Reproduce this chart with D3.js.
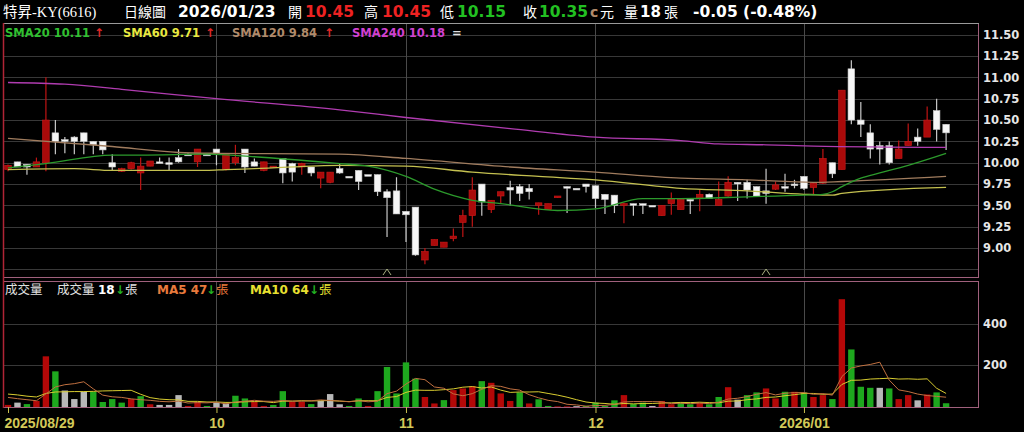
<!DOCTYPE html>
<html><head><meta charset="utf-8">
<script src="https://cdn.jsdelivr.net/npm/d3@7"></script>
<style>
html,body{margin:0;padding:0;background:#000;overflow:hidden}
svg{display:block}
</style></head><body>
<svg id="c" width="1024" height="432"></svg>
<script>
// ---------------- data ----------------
const opens  = [9.92,10.01,9.98,9.95,10.00,10.35,10.27,10.30,10.35,10.25,10.25,10.00,9.90,9.93,9.88,9.96,10.01,10.00,10.06,10.10,
10.01,10.10,10.16,9.92,10.00,10.16,10.01,9.91,9.95,10.05,9.99,9.95,9.95,9.82,9.77,9.93,9.84,9.91,9.86,9.86,
9.66,9.67,9.43,9.48,8.86,9.03,9.01,9.11,9.30,9.38,9.75,9.45,9.61,9.71,9.72,9.70,9.50,9.45,9.59,9.72,
9.70,9.75,9.73,9.63,9.62,9.51,9.52,9.52,9.50,9.38,9.52,9.45,9.57,9.58,9.63,9.50,9.61,9.77,9.77,9.72,
9.67,9.69,9.72,9.75,9.84,9.71,9.76,10.00,9.92,11.10,10.50,10.35,10.20,10.20,10.05,10.20,10.30,10.30,10.61,10.45];
const highs  = [9.98,10.01,9.98,10.06,11.00,10.50,10.30,10.31,10.35,10.25,10.25,10.10,9.94,10.01,10.06,10.02,10.06,10.06,10.16,10.11,
10.16,10.11,10.16,10.11,10.21,10.16,10.05,10.01,9.96,10.05,10.00,10.00,9.95,9.89,9.89,9.99,9.84,9.91,9.86,9.86,
9.69,9.83,9.43,9.48,9.00,9.10,9.07,9.23,9.45,9.83,9.75,9.56,9.66,9.79,9.75,9.75,9.53,9.52,9.61,9.72,
9.70,9.75,9.73,9.63,9.62,9.53,9.52,9.52,9.50,9.50,9.65,9.57,9.57,9.68,9.64,9.78,9.84,9.77,9.80,9.72,
9.93,9.78,9.87,9.80,9.84,9.76,10.16,10.00,10.85,11.20,10.71,10.45,10.25,10.25,10.26,10.46,10.40,10.66,10.75,10.45];
const lows   = [9.90,9.95,9.86,9.95,9.90,10.10,10.11,10.10,10.10,10.10,10.10,9.91,9.89,9.92,9.68,9.96,10.00,9.91,10.00,10.10,
9.95,10.09,9.97,9.91,9.97,9.88,9.96,9.90,9.94,9.76,9.78,9.86,9.84,9.70,9.76,9.87,9.84,9.68,9.86,9.61,
9.13,9.40,9.07,8.91,8.81,9.03,9.01,9.08,9.13,9.25,9.38,9.41,9.52,9.50,9.55,9.57,9.39,9.45,9.59,9.41,
9.70,9.65,9.47,9.40,9.41,9.29,9.38,9.40,9.50,9.38,9.39,9.45,9.40,9.43,9.58,9.50,9.60,9.55,9.58,9.61,
9.52,9.68,9.66,9.70,9.68,9.63,9.75,9.82,9.92,10.45,10.30,10.05,9.98,9.98,10.05,10.20,10.20,10.30,10.25,10.15];
const closes = [9.97,9.95,9.95,10.01,10.50,10.25,10.25,10.25,10.25,10.21,10.15,9.95,9.93,10.00,9.96,10.02,10.00,10.00,10.01,10.10,
10.16,10.10,10.10,10.10,10.06,9.95,9.96,10.01,9.96,9.88,9.89,9.99,9.88,9.89,9.89,9.88,9.84,9.78,9.86,9.66,
9.59,9.40,9.39,8.92,8.96,9.10,9.07,9.14,9.38,9.68,9.54,9.56,9.66,9.68,9.64,9.66,9.53,9.52,9.61,9.72,
9.70,9.72,9.58,9.57,9.50,9.52,9.51,9.52,9.50,9.50,9.58,9.57,9.57,9.63,9.58,9.57,9.77,9.76,9.68,9.61,
9.64,9.74,9.72,9.75,9.70,9.76,10.05,9.87,10.85,10.50,10.45,10.16,10.16,10.00,10.16,10.25,10.25,10.50,10.39,10.35];
const volumes = [10,21,14,29,243,171,79,38,73,73,24,38,21,38,52,13,10,10,57,5,
25,5,21,17,54,41,25,5,10,76,25,25,14,29,62,13,5,41,5,76,
192,65,214,136,48,17,33,81,89,100,124,116,65,29,70,17,37,5,3,3,
4,5,21,5,32,57,14,21,5,29,13,21,13,21,13,48,95,35,57,70,
89,41,73,73,70,48,57,38,517,276,97,92,92,89,38,57,32,60,70,18];
// volume bar colour: r = up, g = down, w = unchanged
const volColors = "rwgrrgwwwggggrgrwwwrrgwwggrrggrrgwwwggrgggggrrgrrrgrrrgrggrrwggggrggwrrggrggrwggrrgrgrrgrgggwgrrwrgg";
const volMA5 = [46,40,35,30,63,96,107,112,121,87,57,49,46,39,35,32,27,25,28,19,
21,20,23,15,24,28,32,28,27,31,28,28,30,34,31,29,25,30,25,28,
64,76,110,137,131,96,90,63,54,64,85,102,99,87,81,59,44,32,26,13,
10,4,7,8,13,24,26,26,26,25,16,18,16,19,16,23,38,42,50,61,
69,58,66,69,69,61,64,57,146,187,197,204,215,129,82,74,62,55,51,47];
const volMA10 = [62,58,52,48,65,72,73,74,74,75,77,78,79,80,61,45,38,35,34,27,
27,24,24,22,22,25,26,26,21,28,28,30,29,30,31,28,26,30,30,30,
46,50,70,81,80,80,83,87,95,98,91,96,81,70,72,72,73,65,57,47,
35,24,19,17,13,17,15,17,17,19,20,22,21,23,21,20,28,29,35,39,
46,48,54,59,65,65,61,62,108,128,129,134,136,138,134,135,133,135,90,65];

// moving averages on price, read at sample points (candle index -> value)
const sma20Idx  = [0,4,11,14,21,26,35,38,42,45,49,52,58,62,67,71,78,84,86,87,88,90,92,95,99];
const sma20Val  = [9.94,9.99,10.09,10.09,10.10,10.07,9.99,9.96,9.84,9.69,9.56,9.52,9.44,9.46,9.58,9.58,9.60,9.62,9.63,9.66,9.72,9.82,9.88,9.97,10.11];
const sma60Idx  = [0,7,11,21,23,26,35,42,49,56,62,71,78,84,87,88,99];
const sma60Val  = [9.92,9.93,9.91,9.91,9.92,9.93,9.97,9.96,9.89,9.84,9.80,9.70,9.67,9.63,9.62,9.64,9.71];
const sma120Idx = [0,11,18,22,35,42,53,62,71,78,85,88,99];
const sma120Val = [10.285,10.19,10.12,10.11,10.10,10.05,9.95,9.89,9.82,9.80,9.77,9.78,9.84];
const sma240Idx = [0,6,12,22,35,42,53,62,71,75,80,85,99];
const sma240Val = [10.94,10.92,10.86,10.75,10.62,10.53,10.40,10.30,10.26,10.22,10.21,10.195,10.18];

const markerIdx = [40,80];

const priceGridTicks = [11.50,11.25,11.00,10.75,10.50,10.25,10.00,9.75,9.50,9.25,9.00,8.75];
const priceLabelTicks = [11.50,11.25,11.00,10.75,10.50,10.25,10.00,9.75,9.50,9.25,9.00];
const volTicks = [200,400];
const dateTickIdx = [0,22,42,62,84];
const dateTickLabels = ["2025/08/29","10","11","12","2026/01"];

// ---------------- layout ----------------
const L=3, R=978, PT=23, PB=277, VT=281, VB=407;
const svg = d3.select("#c");
svg.append("rect").attr("width",1024).attr("height",432).attr("fill","#000");

const x  = d3.scaleLinear().domain([0, opens.length-1]).range([8, 946.1]);
const yP = d3.scaleLinear().domain([8.75, 11.5]).range([269.4, 34.7]);
const yV = d3.scaleLinear().domain([0, 400]).range([VB, 323.6]);

const NUM = "'DejaVu Sans', Verdana, sans-serif";
const CJK = "'Noto Sans CJK TC', 'Noto Sans CJK SC', sans-serif";

// ---- grids ----
function styleGrid(g, col){
  g.select(".domain").remove();
  g.selectAll("line").attr("stroke",col).attr("stroke-width",1).attr("shape-rendering","crispEdges");
  g.selectAll("text").remove();
}
svg.append("g").attr("transform",`translate(${R},0)`)
  .call(d3.axisLeft(yP).tickValues(priceGridTicks).tickSize(R-L).tickFormat(""))
  .call(g=>styleGrid(g,"#383838"));
svg.append("g").attr("transform",`translate(${R},0)`)
  .call(d3.axisLeft(yV).tickValues(volTicks).tickSize(R-L).tickFormat(""))
  .call(g=>styleGrid(g,"#383838"));
const monthIdx = dateTickIdx.slice(1);
svg.append("g").attr("transform",`translate(0,${PT})`)
  .call(d3.axisBottom(x).tickValues(monthIdx).tickSize(PB-PT).tickFormat(""))
  .call(g=>styleGrid(g,"#4a4a4a"));
svg.append("g").attr("transform",`translate(0,${VT})`)
  .call(d3.axisBottom(x).tickValues(monthIdx).tickSize(VB-VT).tickFormat(""))
  .call(g=>styleGrid(g,"#4a4a4a"));

// ---- panel borders ----
const border = "#a0607c";
svg.append("rect").attr("x",L+0.5).attr("y",PT+0.5).attr("width",R-L).attr("height",PB-PT)
  .attr("fill","none").attr("stroke",border);
svg.append("rect").attr("x",L+0.5).attr("y",VT+0.5).attr("width",R-L).attr("height",VB-VT)
  .attr("fill","none").attr("stroke",border);
svg.append("line").attr("x1",L).attr("x2",R+1).attr("y1",PT+0.5).attr("y2",PT+0.5).attr("stroke","#9a9a9a");
svg.append("line").attr("x1",L+0.5).attr("x2",L+0.5).attr("y1",PT).attr("y2",VB+1).attr("stroke","#b02436").attr("stroke-width",1.5);

// ---- candles ----
const idx = d3.range(opens.length);
const bw = 6.6;
const isUp = i => closes[i] > opens[i];
const cg = svg.append("g");
cg.selectAll("line").data(idx).join("line")
  .attr("x1",i=>x(i)).attr("x2",i=>x(i))
  .attr("y1",i=>yP(highs[i])).attr("y2",i=>yP(lows[i]))
  .attr("stroke",i=>isUp(i)?"#c01414":"#c8c8c8").attr("stroke-width",1.2);
cg.selectAll("rect").data(idx).join("rect")
  .attr("x",i=>x(i)-bw/2).attr("width",bw)
  .attr("y",i=>yP(Math.max(opens[i],closes[i])))
  .attr("height",i=>Math.max(1.6, Math.abs(yP(opens[i])-yP(closes[i]))))
  .attr("fill",i=>isUp(i)?"#aa0a0a":"#f6f6f6")
  .attr("stroke",i=>isUp(i)?"#cc1a1a":"#c8c8c8").attr("stroke-width",0.6);

// ---- price moving averages ----
const lineGen = d3.line().x(d=>x(d[0])).y(d=>yP(d[1])).curve(d3.curveMonotoneX);
const maSeries = [
  [sma240Idx, sma240Val, "#b03cb0"],
  [sma120Idx, sma120Val, "#a07c5e"],
  [sma60Idx,  sma60Val,  "#c4c050"],
  [sma20Idx,  sma20Val,  "#2c9a2c"]
];
maSeries.forEach(([ix,vals,col])=>{
  svg.append("path").datum(ix.map((d,k)=>[d,vals[k]]))
    .attr("d",lineGen).attr("fill","none").attr("stroke",col).attr("stroke-width",1.3);
});

// markers
svg.selectAll("path.mk").data(markerIdx).join("path").attr("class","mk")
  .attr("d",i=>`M${x(i)-4},${PB-2} L${x(i)},${PB-8} L${x(i)+4},${PB-2}`)
  .attr("fill","none").attr("stroke","#a8b080").attr("stroke-width",1);

// ---- volume bars ----
const vcol = {r:"#b40808", g:"#1ea81e", w:"#b8b8b8"};
svg.append("g").selectAll("rect").data(idx).join("rect")
  .attr("x",i=>x(i)-3.2).attr("width",6.4)
  .attr("y",i=>yV(volumes[i])).attr("height",i=>VB-yV(volumes[i]))
  .attr("fill",i=>vcol[volColors[i]]);

const vLine = arr => d3.line().x((d,i)=>x(i)).y(d=>yV(d)).curve(d3.curveLinear)(arr);
svg.append("path").attr("d",vLine(volMA10)).attr("fill","none").attr("stroke","#d8cc30").attr("stroke-width",1);
svg.append("path").attr("d",vLine(volMA5)).attr("fill","none").attr("stroke","#c07040").attr("stroke-width",1);

// ---- axes labels ----
svg.append("g").attr("transform",`translate(${R},0)`)
  .call(d3.axisRight(yP).tickValues(priceLabelTicks).tickSize(0).tickPadding(5).tickFormat(d3.format(".2f")))
  .call(g=>{g.select(".domain").remove();
    g.selectAll("text").attr("fill","#e6e6e6").style("font-family",NUM).style("font-size","11.5px").style("font-weight","bold");});
svg.append("g").attr("transform",`translate(${R},0)`)
  .call(d3.axisRight(yV).tickValues(volTicks).tickSize(0).tickPadding(5))
  .call(g=>{g.select(".domain").remove();
    g.selectAll("text").attr("fill","#e6e6e6").style("font-family",NUM).style("font-size","11.5px").style("font-weight","bold");});
svg.append("g").attr("transform",`translate(0,${VB})`)
  .call(d3.axisBottom(x).tickValues(dateTickIdx).tickSize(6).tickPadding(5).tickFormat((d,k)=>dateTickLabels[k]))
  .call(g=>{g.select(".domain").remove();
    g.selectAll("line").attr("stroke","#c8c050");
    g.selectAll("text").attr("fill","#d2c858").style("font-family","'Liberation Sans', Arial, sans-serif")
      .style("font-size","14px").style("font-weight","bold");
    g.selectAll("text").filter((d,k)=>k===0).attr("text-anchor","start").attr("x",-4);});

// ---- header ----
function txt(xp, yp, s, col, size, fam, bold){
  return svg.append("text").attr("x",xp).attr("y",yp).text(s).attr("fill",col)
    .style("font-family",fam).style("font-size",size+"px").style("font-weight",bold?"bold":"normal");
}
const HY = 17;
txt(3,HY,"特昇-KY(6616)","#ffffff",14.5,"'Liberation Serif', "+CJK,false);
txt(124,HY,"日線圖","#ffffff",14,CJK,false);
txt(178,HY,"2026/01/23","#ffffff",15.5,NUM,true);
txt(288,HY,"開","#ffffff",14,CJK,false);
txt(305,HY,"10.45","#ee2222",15.5,NUM,true);
txt(364,HY,"高","#ffffff",14,CJK,false);
txt(382,HY,"10.45","#ee2222",15.5,NUM,true);
txt(440,HY,"低","#ffffff",14,CJK,false);
txt(457,HY,"10.15","#22c022",15.5,NUM,true);
txt(523,HY,"收","#ffffff",14,CJK,false);
txt(539,HY,"10.35","#22c022",15.5,NUM,true);
txt(590,HY,"c","#b08a6a",14,NUM,true);
txt(600,HY,"元","#ffffff",14,CJK,false);
txt(624,HY,"量","#ffffff",14,CJK,false);
txt(640,HY,"18","#ffffff",15,NUM,true);
txt(664,HY,"張","#ffffff",14,CJK,false);
txt(693,HY,"-0.05 (-0.48%)","#ffffff",15.5,NUM,true);

// price legend
const LY = 37;
txt(5,LY,"SMA20 10.11","#30c030",11.5,NUM,true);
txt(94,LY,"↑","#e02828",12,NUM,true);
txt(123,LY,"SMA60 9.71","#e8e840",11.5,NUM,true);
txt(205,LY,"↑","#e02828",12,NUM,true);
txt(232,LY,"SMA120 9.84","#b08a6a",11.5,NUM,true);
txt(324,LY,"↑","#e02828",12,NUM,true);
txt(352,LY,"SMA240 10.18","#d040d0",11.5,NUM,true);
txt(452,LY,"=","#e0e0e0",11.5,NUM,true);

// volume legend
const VY = 294;
txt(5,VY,"成交量","#e0e0e0",12.5,CJK,false);
txt(57,VY,"成交量","#e0e0e0",12.5,CJK,false);
txt(98,VY,"18","#ffffff",12,NUM,true);
txt(115,VY,"↓","#22b022",12,NUM,true);
txt(125,VY,"張","#e0e0e0",12.5,CJK,false);
txt(157,VY,"MA5 47","#e87a3c",12,NUM,true);
txt(206,VY,"↓","#22b022",12,NUM,true);
txt(216,VY,"張","#e87a3c",12.5,CJK,false);
txt(250,VY,"MA10 64","#e8e030",12,NUM,true);
txt(309,VY,"↓","#22b022",12,NUM,true);
txt(319,VY,"張","#e8e030",12.5,CJK,false);
</script>
</body></html>
